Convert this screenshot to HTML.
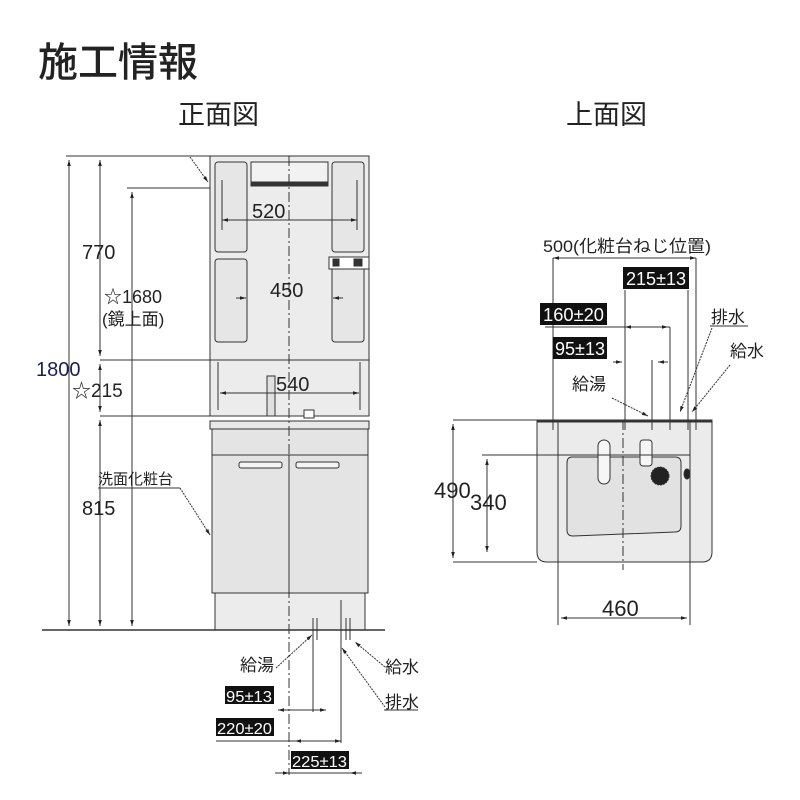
<!DOCTYPE html>
<html><head><meta charset="utf-8"><style>
body{margin:0;background:#fff}
svg{display:block}
text{font-family:"Liberation Sans","Noto Sans CJK JP",sans-serif;fill:#222}
.j{font-family:"Liberation Sans","Noto Sans CJK JP",sans-serif}
.bx{fill:#111}
.bt{fill:#fff;font-family:"Liberation Sans",sans-serif}
</style></head><body>
<svg width="800" height="800" viewBox="0 0 800 800" xmlns="http://www.w3.org/2000/svg">
<defs><marker id="a" viewBox="0 0 10 10" refX="10" refY="5" markerWidth="6" markerHeight="6" orient="auto-start-reverse"><path d="M0,2L10,5L0,8z" fill="#222"/></marker></defs>
<text x="38" y="76" class="j" font-size="40" font-weight="500">施工情報</text>
<text x="178" y="124" class="j" font-size="27">正面図</text>
<text x="566" y="124" class="j" font-size="27">上面図</text>

<g stroke="#333" fill="none" stroke-width="1">
<rect x="210" y="156" width="159" height="260" fill="#ececec"/>
<rect x="215" y="162" width="32" height="90" rx="3" fill="#e6e6e6"/>
<rect x="215" y="259" width="32" height="83" rx="3" fill="#e6e6e6"/>
<rect x="332" y="162" width="32" height="90" rx="3" fill="#e6e6e6"/>
<rect x="332" y="259" width="32" height="83" rx="3" fill="#e6e6e6"/>
<rect x="251" y="162" width="77" height="24" fill="#f2f2f2"/>
<rect x="252" y="182" width="76" height="4" fill="#333"/>
<rect x="329" y="257" width="40" height="12" fill="#fff"/>
<rect x="333" y="259" width="6" height="7" fill="#333"/><rect x="354" y="259" width="8" height="7" fill="#333"/>
<line x1="210" y1="360" x2="369" y2="360"/>
<line x1="218" y1="362" x2="218" y2="410"/><line x1="360" y1="362" x2="360" y2="410"/>
<rect x="267" y="376" width="8" height="40" fill="#e0e0e0"/>
<rect x="304" y="410" width="10" height="8" fill="#fff"/>
<rect x="210" y="421" width="159" height="8" fill="#e8e8e8"/>
<rect x="212" y="429" width="156" height="164" fill="#e4e4e4"/>
<line x1="212" y1="455" x2="368" y2="455"/>
<line x1="289" y1="455" x2="289" y2="593"/>
<rect x="239" y="462" width="43" height="6" rx="2" fill="#f4f4f4"/>
<rect x="296" y="462" width="43" height="6" rx="2" fill="#f4f4f4"/>
<rect x="215" y="593" width="150" height="37" fill="#ececec"/>
<line x1="42" y1="630" x2="385" y2="630" stroke-width="1.5"/>
<line x1="289" y1="156" x2="289" y2="775" stroke-dasharray="10,3,2,3"/>
<line x1="66" y1="156" x2="210" y2="156"/>
<line x1="127" y1="188" x2="210" y2="188"/>
<line x1="100" y1="360" x2="210" y2="360"/>
<line x1="100" y1="416" x2="210" y2="416"/>
<line x1="69" y1="160" x2="69" y2="626" marker-start="url(#a)" marker-end="url(#a)"/>
<line x1="100" y1="160" x2="100" y2="356" marker-start="url(#a)" marker-end="url(#a)"/>
<line x1="100" y1="364" x2="100" y2="412" marker-start="url(#a)" marker-end="url(#a)"/>
<line x1="100" y1="420" x2="100" y2="626" marker-start="url(#a)" marker-end="url(#a)"/>
<line x1="132" y1="192" x2="132" y2="626" marker-start="url(#a)" marker-end="url(#a)"/>
<line x1="222" y1="220" x2="357" y2="220" marker-start="url(#a)" marker-end="url(#a)"/>
<line x1="222" y1="180" x2="222" y2="230"/><line x1="357" y1="180" x2="357" y2="230"/>
<line x1="236" y1="298" x2="246" y2="298" marker-end="url(#a)"/>
<line x1="343" y1="298" x2="333" y2="298" marker-end="url(#a)"/>
<line x1="220" y1="393" x2="359" y2="393" marker-start="url(#a)" marker-end="url(#a)"/>
<line x1="190" y1="157" x2="208" y2="182" stroke-dasharray="2,1" marker-end="url(#a)"/>
<line x1="98" y1="488" x2="180" y2="488"/>
<line x1="180" y1="488" x2="210" y2="535" stroke-dasharray="2,1" marker-end="url(#a)"/>
<line x1="313" y1="618" x2="313" y2="640"/><line x1="317" y1="618" x2="317" y2="640"/>
<line x1="341" y1="600" x2="341" y2="640"/>
<line x1="346" y1="618" x2="346" y2="640"/><line x1="350" y1="618" x2="350" y2="640"/>
<line x1="276" y1="668" x2="312" y2="635" stroke-dasharray="2,1" marker-end="url(#a)"/>
<line x1="385" y1="667" x2="355" y2="642" stroke-dasharray="2,1" marker-end="url(#a)"/>
<line x1="385" y1="707" x2="342" y2="648" stroke-dasharray="2,1" marker-end="url(#a)"/>
<line x1="384" y1="710" x2="418" y2="710"/>
<line x1="313" y1="640" x2="313" y2="712"/>
<line x1="341" y1="640" x2="341" y2="743"/>
<line x1="278" y1="710" x2="326" y2="710" marker-start="url(#a)" marker-end="url(#a)"/>
<line x1="216" y1="741" x2="341" y2="741"/>
<line x1="295" y1="741" x2="341" y2="741" marker-start="url(#a)" marker-end="url(#a)"/>
<line x1="275" y1="773" x2="362" y2="773"/>
<line x1="275" y1="773" x2="289" y2="773" marker-end="url(#a)"/>
<line x1="362" y1="773" x2="350" y2="773" marker-end="url(#a)"/>

<path d="M537,420 H712 V552 Q712,562 702,562 H547 Q537,562 537,552 Z" fill="#ebebeb"/>
<line x1="537" y1="421" x2="712" y2="421" stroke-width="3"/>
<path d="M572,457 H675 Q681,457 681,463 V526 Q681,532 675,532 L573,536 Q567,536 567,530 V463 Q567,457 572,457Z" fill="#e2e2e2"/>
<rect x="598" y="440" width="12" height="44" rx="6" fill="#f6f6f6"/>
<rect x="640" y="440" width="12" height="26" rx="3" fill="#f6f6f6"/>
<circle cx="660" cy="476" r="9" fill="#222" stroke-dasharray="2,1"/>
<ellipse cx="687" cy="474" rx="3" ry="5" fill="#222"/>
<line x1="623" y1="420" x2="623" y2="570" stroke-dasharray="10,3,2,3"/>
<line x1="453" y1="420" x2="537" y2="420"/>
<line x1="453" y1="562" x2="537" y2="562"/>
<line x1="453" y1="424" x2="453" y2="558" marker-start="url(#a)" marker-end="url(#a)"/>
<line x1="482" y1="455" x2="690" y2="455"/>
<line x1="487" y1="459" x2="487" y2="552" marker-start="url(#a)" marker-end="url(#a)"/>
<line x1="558" y1="420" x2="558" y2="625"/>
<line x1="690" y1="420" x2="690" y2="625"/>
<line x1="561" y1="618" x2="687" y2="618" marker-start="url(#a)" marker-end="url(#a)"/>
<line x1="553" y1="258" x2="553" y2="430"/>
<line x1="696" y1="258" x2="696" y2="430"/>
<line x1="553" y1="258" x2="696" y2="258" marker-start="url(#a)" marker-end="url(#a)"/>
<line x1="625" y1="290" x2="625" y2="430"/>
<line x1="688" y1="290" x2="688" y2="430"/>
<line x1="545" y1="327" x2="670" y2="327"/>
<line x1="625" y1="327" x2="668" y2="327" marker-start="url(#a)" marker-end="url(#a)"/>
<line x1="670" y1="327" x2="670" y2="430"/>
<line x1="613" y1="362" x2="622" y2="362" marker-end="url(#a)"/>
<line x1="668" y1="362" x2="658" y2="362" marker-end="url(#a)"/>
<line x1="652" y1="360" x2="652" y2="430"/>
<line x1="612" y1="398" x2="648" y2="416" stroke-dasharray="2,1" marker-end="url(#a)"/>
<line x1="712" y1="328" x2="680" y2="412" stroke-dasharray="2,1" marker-end="url(#a)"/>
<line x1="710" y1="326" x2="748" y2="326"/>
<line x1="730" y1="365" x2="692" y2="412" stroke-dasharray="2,1" marker-end="url(#a)"/>
</g>

<text x="82" y="259" font-size="20">770</text>
<text x="104" y="303" font-size="18">☆1680</text>
<text x="102" y="325" font-size="17">(鏡上面)</text>
<text x="36" y="376" font-size="20" style="fill:#1a2050">1800</text>
<text x="72" y="397" font-size="19">☆215</text>
<text x="82" y="515" font-size="20">815</text>
<text x="98" y="484" font-size="15">洗面化粧台</text>
<text x="252" y="218" font-size="20">520</text>
<text x="270" y="297" font-size="20">450</text>
<text x="276" y="391" font-size="20">540</text>
<text x="240" y="671" font-size="17">給湯</text>
<text x="385" y="673" font-size="17">給水</text>
<text x="385" y="708" font-size="17">排水</text>
<rect x="225" y="686" width="49" height="18" class="bx"/><text x="226" y="702" class="bt" font-size="16" textLength="46" lengthAdjust="spacingAndGlyphs">95±13</text>
<rect x="216" y="718" width="58" height="18" class="bx"/><text x="217" y="734" class="bt" font-size="16" textLength="55" lengthAdjust="spacingAndGlyphs">220±20</text>
<rect x="291" y="751" width="58" height="18" class="bx"/><text x="292" y="767" class="bt" font-size="16" textLength="55" lengthAdjust="spacingAndGlyphs">225±13</text>

<text x="543" y="252" font-size="17" textLength="168" lengthAdjust="spacingAndGlyphs">500(化粧台ねじ位置)</text>
<rect x="623" y="267" width="66" height="22" class="bx"/><text x="626" y="285" class="bt" font-size="18" textLength="60" lengthAdjust="spacingAndGlyphs">215±13</text>
<rect x="540" y="303" width="67" height="22" class="bx"/><text x="543" y="321" class="bt" font-size="18" textLength="61" lengthAdjust="spacingAndGlyphs">160±20</text>
<rect x="553" y="337" width="54" height="22" class="bx"/><text x="555" y="355" class="bt" font-size="18" textLength="50" lengthAdjust="spacingAndGlyphs">95±13</text>
<text x="572" y="390" font-size="17">給湯</text>
<text x="711" y="323" font-size="17">排水</text>
<text x="730" y="357" font-size="17">給水</text>
<text x="434" y="498" font-size="22">490</text>
<text x="470" y="510" font-size="22">340</text>
<text x="602" y="616" font-size="22">460</text>
</svg>
</body></html>
